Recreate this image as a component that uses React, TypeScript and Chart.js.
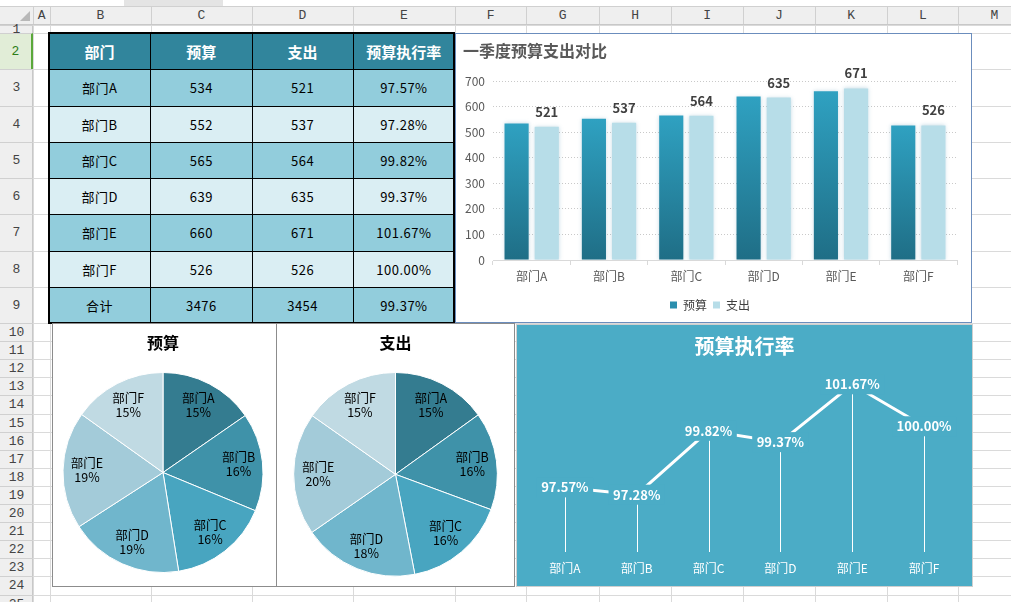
import React, { useEffect, useRef } from "react";
import { Chart, registerables } from "chart.js";

Chart.register(...registerables);

const FONT = "'Noto Sans CJK SC', 'Noto Sans', sans-serif";
const SHEET_FONT = "'Liberation Mono', 'DejaVu Sans Mono', monospace";

// ---------- data ----------
const departments = ["部门A", "部门B", "部门C", "部门D", "部门E", "部门F"];
const budget = [534, 552, 565, 639, 660, 526];
const spending = [521, 537, 564, 635, 671, 526];
const execRate = [97.57, 97.28, 99.82, 99.37, 101.67, 100.0];
const tableHeaders = ["部门", "预算", "支出", "预算执行率"];
const totalLabel = "合计";
const seriesNames = ["预算", "支出"];
const barTitle = "一季度预算支出对比";
const rateTitle = "预算执行率";
const barAxisMin = 0;
const barAxisMax = 700;
const barAxisStep = 100;
const rateAxisMin = 95;
const rateAxisMax = 102;

const colLetters = ["A", "B", "C", "D", "E", "F", "G", "H", "I", "J", "K", "L", "M"];

// ---------- styles ----------
const pieColors = ["#347c90", "#3f92a9", "#48a5c0", "#70b6cc", "#a3cbd9", "#c0dae3"];
const budgetColor = "#2b8fae";
const spendColor = "#b7dde8";
const rateBg = "#4bacc6";

const colEdges = [33, 49.5, 150.5, 251.5, 352.5, 454.5, 526, 598.5, 671, 742.5, 814.5, 887, 958, 1030];
const rowHeights = [8, 36.25, 36.25, 36.25, 36.25, 36.25, 36.25, 36.25, 36.25,
  18.1, 18.1, 18.1, 18.1, 18.1, 18.1, 18.1, 18.1, 18.1, 18.1, 18.1, 18.1, 18.1, 18.1, 18.1, 18.1];

const sum = (a: number[]) => a.reduce((s, v) => s + v, 0);

function roundedShares(values: number[]): number[] {
  const total = sum(values);
  const raw = values.map((v) => (v / total) * 100);
  const floors = raw.map((r) => Math.floor(r));
  let rest = 100 - sum(floors);
  const order = raw.map((r, i) => ({ i, rem: r - Math.floor(r) })).sort((a, b) => b.rem - a.rem);
  const out = floors.slice();
  for (const o of order) {
    if (rest <= 0) break;
    out[o.i] += 1;
    rest -= 1;
  }
  return out;
}

function ChartCanvas(props: { left: number; top: number; width: number; height: number; make: () => any }) {
  const ref = useRef<HTMLCanvasElement | null>(null);
  useEffect(() => {
    const chart = new Chart(ref.current as HTMLCanvasElement, props.make());
    return () => chart.destroy();
  }, []);
  return (
    <canvas
      ref={ref}
      width={props.width}
      height={props.height}
      style={{ position: "absolute", left: props.left, top: props.top, width: props.width, height: props.height }}
    />
  );
}

// ---------- bar chart ----------
function makeBarConfig() {
  const valueLabels = {
    id: "valueLabels",
    afterDatasetsDraw(chart: any) {
      const ctx = chart.ctx;
      const meta = chart.getDatasetMeta(1);
      ctx.save();
      ctx.font = `bold 13px ${FONT}`;
      ctx.fillStyle = "#404040";
      ctx.textAlign = "center";
      ctx.textBaseline = "middle";
      meta.data.forEach((el: any, i: number) => {
        ctx.fillText(String(spending[i]), el.x, el.y - 15);
      });
      ctx.restore();
    },
  };
  const barShadow = {
    id: "barShadow",
    beforeDatasetDraw(chart: any) {
      const ctx = chart.ctx;
      ctx.save();
      ctx.shadowColor = "rgba(90,150,180,0.35)";
      ctx.shadowBlur = 4;
    },
    afterDatasetDraw(chart: any) {
      chart.ctx.restore();
    },
  };
  return {
    type: "bar",
    data: {
      labels: departments,
      datasets: [
        {
          label: seriesNames[0],
          data: budget,
          backgroundColor: (c: any) => {
            const chart = c.chart;
            const ys = chart.scales && chart.scales.y;
            if (!ys || !chart.chartArea || c.raw == null) return budgetColor;
            const top = ys.getPixelForValue(c.raw);
            const bottom = ys.getPixelForValue(0);
            if (!isFinite(top) || !isFinite(bottom) || bottom - top < 1) return budgetColor;
            const g = chart.ctx.createLinearGradient(0, top, 0, bottom);
            g.addColorStop(0, "#2fa1c1");
            g.addColorStop(1, "#1f6e86");
            return g;
          },
          borderWidth: 0,
        },
        {
          label: seriesNames[1],
          data: spending,
          backgroundColor: spendColor,
          borderWidth: 0,
        },
      ],
    },
    options: {
      animation: false,
      responsive: false,
      maintainAspectRatio: false,
      events: [],
      layout: { padding: { left: 7, right: 14, top: 0, bottom: 1 } },
      datasets: { bar: { barPercentage: 0.8, categoryPercentage: 0.78 } },
      scales: {
        x: {
          grid: { display: true, drawOnChartArea: false, drawTicks: true, tickLength: 5, color: "#d9d9d9", offset: true },
          border: { display: true, color: "#d9d9d9", width: 1 },
          ticks: { color: "#595959", font: { family: FONT, size: 12 }, padding: 4 },
          afterFit: (s: any) => {
            s.height = 33;
          },
        },
        y: {
          min: barAxisMin,
          max: barAxisMax,
          ticks: { stepSize: barAxisStep, color: "#595959", font: { family: FONT, size: 12 }, padding: 8 },
          grid: { color: "#c9c9c9", drawTicks: false, lineWidth: 1 },
          border: { display: false, dash: [1, 2] },
          afterFit: (s: any) => {
            s.width = 30;
          },
        },
      },
      plugins: {
        tooltip: { enabled: false },
        title: {
          display: true,
          text: barTitle,
          align: "start",
          color: "#595959",
          font: { family: FONT, size: 16, weight: "bold" },
          padding: { top: 7.4, bottom: 20.4 },
        },
        legend: {
          display: true,
          position: "bottom",
          labels: {
            boxWidth: 7,
            boxHeight: 7,
            padding: 6,
            color: "#404040",
            font: { family: FONT, size: 12 },
            generateLabels: (chart: any) =>
              chart.data.datasets.map((ds: any, i: number) => ({
                text: ds.label,
                fillStyle: i === 0 ? budgetColor : spendColor,
                strokeStyle: i === 0 ? budgetColor : spendColor,
                lineWidth: 0,
                hidden: false,
                datasetIndex: i,
                fontColor: "#404040",
              })),
          },
        },
      },
    },
    plugins: [barShadow, valueLabels],
  };
}

// ---------- pie charts ----------
function makePieConfig(title: string, values: number[], padBottom: number, padRight: number) {
  const shares = roundedShares(values);
  const pieLabels = {
    id: "pieLabels",
    afterDatasetsDraw(chart: any) {
      const ctx = chart.ctx;
      const meta = chart.getDatasetMeta(0);
      ctx.save();
      ctx.font = `12.5px ${FONT}`;
      ctx.fillStyle = "#000";
      ctx.textAlign = "center";
      ctx.textBaseline = "middle";
      meta.data.forEach((arc: any, i: number) => {
        const mid = (arc.startAngle + arc.endAngle) / 2;
        const r = arc.outerRadius * 0.76;
        const px = arc.x + Math.cos(mid) * r;
        const py = arc.y + Math.sin(mid) * r;
        ctx.fillText(departments[i], px, py - 7);
        ctx.fillText(shares[i] + "%", px, py + 7);
      });
      ctx.restore();
    },
  };
  return {
    type: "pie",
    data: {
      labels: departments,
      datasets: [{ data: values, backgroundColor: pieColors, borderColor: "#ffffff", borderWidth: 1 }],
    },
    options: {
      animation: false,
      responsive: false,
      maintainAspectRatio: false,
      events: [],
      layout: { padding: { top: 0, bottom: padBottom, left: 0, right: padRight } },
      plugins: {
        tooltip: { enabled: false },
        legend: { display: false },
        title: {
          display: true,
          text: title,
          color: "#000",
          font: { family: FONT, size: 16, weight: "bold" },
          padding: { top: 9.4, bottom: 19.4 },
        },
      },
    },
    plugins: [pieLabels],
  };
}

// ---------- line chart ----------
function makeRateConfig() {
  const dropLines = {
    id: "dropLines",
    beforeDatasetsDraw(chart: any) {
      const ctx = chart.ctx;
      const meta = chart.getDatasetMeta(0);
      const bottom = chart.chartArea.bottom;
      ctx.save();
      ctx.strokeStyle = "#ffffff";
      ctx.lineWidth = 1;
      meta.data.forEach((pt: any) => {
        const x = Math.round(pt.x) + 0.5;
        ctx.beginPath();
        ctx.moveTo(x, pt.y);
        ctx.lineTo(x, bottom);
        ctx.stroke();
      });
      ctx.restore();
    },
  };
  const rateLabels = {
    id: "rateLabels",
    afterDatasetsDraw(chart: any) {
      const ctx = chart.ctx;
      const meta = chart.getDatasetMeta(0);
      ctx.save();
      ctx.font = `bold 13px ${FONT}`;
      ctx.textAlign = "center";
      ctx.textBaseline = "middle";
      meta.data.forEach((pt: any, i: number) => {
        const t = execRate[i].toFixed(2) + "%";
        const w = ctx.measureText(t).width + 9;
        ctx.fillStyle = rateBg;
        ctx.fillRect(pt.x - w / 2, pt.y - 10, w, 20);
        ctx.fillStyle = "#ffffff";
        ctx.fillText(t, pt.x, pt.y);
      });
      ctx.restore();
    },
  };
  return {
    type: "line",
    data: {
      labels: departments,
      datasets: [
        {
          label: rateTitle,
          data: execRate,
          borderColor: "#ffffff",
          borderWidth: 3,
          pointRadius: 0,
          tension: 0,
          fill: false,
        },
      ],
    },
    options: {
      animation: false,
      responsive: false,
      maintainAspectRatio: false,
      events: [],
      layout: { padding: { left: 12, right: 12, top: 0, bottom: 0 } },
      scales: {
        x: {
          offset: true,
          grid: { display: false, drawTicks: false },
          border: { display: false },
          ticks: { color: "#ffffff", font: { family: FONT, size: 12 }, padding: 9 },
          afterFit: (s: any) => {
            s.height = 34;
          },
        },
        y: { display: false, min: rateAxisMin, max: rateAxisMax },
      },
      plugins: {
        tooltip: { enabled: false },
        legend: { display: false },
        title: {
          display: true,
          text: rateTitle,
          color: "#ffffff",
          font: { family: FONT, size: 20, weight: "bold" },
          padding: { top: 9.7, bottom: 17.3 },
        },
      },
    },
    plugins: [dropLines, rateLabels],
  };
}

// ---------- sheet ----------
function Sheet() {
  const rowEdges: number[] = [25];
  rowHeights.forEach((h) => rowEdges.push(rowEdges[rowEdges.length - 1] + h));
  const els: any[] = [];
  colEdges.forEach((x, i) =>
    els.push(<div key={"vl" + i} style={{ position: "absolute", left: x, top: 25, width: 1, height: 577, background: "#dadada" }} />)
  );
  rowEdges.forEach((y, i) =>
    els.push(<div key={"hl" + i} style={{ position: "absolute", left: 33, top: y, width: 978, height: 1, background: "#dadada" }} />)
  );
  els.push(<div key="tab" style={{ position: "absolute", left: 124, top: 0, width: 99, height: 6, background: "#e4e4e4" }} />);
  els.push(<div key="topline" style={{ position: "absolute", left: 0, top: 6, width: 1011, height: 1, background: "#d0d0d0" }} />);
  els.push(
    <div key="colhdr" style={{ position: "absolute", left: 0, top: 7, width: 1011, height: 18, background: "#efefef", borderBottom: "1px solid #c8c8c8", boxSizing: "border-box" }} />
  );
  els.push(
    <div key="corner" style={{ position: "absolute", left: 20, top: 11, width: 0, height: 0, borderLeft: "10px solid transparent", borderBottom: "10px solid #b8b8b8" }} />
  );
  colLetters.forEach((c, i) =>
    els.push(
      <div
        key={"ch" + i}
        style={{
          position: "absolute", left: colEdges[i], top: 7, width: colEdges[i + 1] - colEdges[i], height: 17,
          borderLeft: "1px solid #d0d0d0", boxSizing: "border-box", display: "flex", alignItems: "center",
          justifyContent: "center", fontFamily: SHEET_FONT, fontSize: 13, color: "#444",
        }}
      >
        {c}
      </div>
    )
  );
  els.push(
    <div key="rowhdr" style={{ position: "absolute", left: 0, top: 25, width: 33, height: 577, background: "#efefef", borderRight: "1px solid #c8c8c8", boxSizing: "border-box" }} />
  );
  rowHeights.forEach((h, i) => {
    const sel = i === 1;
    els.push(
      <div
        key={"rh" + i}
        style={{
          position: "absolute", left: 0, top: rowEdges[i], width: 33, height: h,
          borderTop: "1px solid #d0d0d0", boxSizing: "border-box", display: "flex", alignItems: "center",
          justifyContent: "center", fontFamily: SHEET_FONT, fontSize: 13, color: sel ? "#2e7d18" : "#444",
          background: sel ? "#e1edd7" : "transparent", borderRight: sel ? "2px solid #5aa83a" : "none",
          overflow: "visible", lineHeight: "13px",
        }}
      >
        {String(i + 1)}
      </div>
    );
  });
  return <>{els}</>;
}

function DataTable() {
  const rows: string[][] = [
    tableHeaders,
    ...departments.map((d, i) => [d, String(budget[i]), String(spending[i]), execRate[i].toFixed(2) + "%"]),
    [totalLabel, String(sum(budget)), String(sum(spending)), ((sum(spending) / sum(budget)) * 100).toFixed(2) + "%"],
  ];
  const W = 405;
  const H = 290;
  const colW = W / 4;
  const rowH = H / rows.length;
  return (
    <div style={{ position: "absolute", left: 49, top: 33, width: W, height: H }}>
      {rows.map((r, ri) =>
        r.map((t, ci) => {
          const head = ri === 0;
          const bg = head ? "#31859c" : ri % 2 === 1 ? "#92cddc" : "#daeef3";
          return (
            <div
              key={ri + "-" + ci}
              style={{
                position: "absolute", left: ci * colW, top: ri * rowH, width: colW, height: rowH,
                background: bg, borderLeft: ci ? "1px solid #000" : "none", borderTop: ri ? "1px solid #000" : "none",
                boxSizing: "border-box", display: "flex", alignItems: "center", justifyContent: "center",
                color: head ? "#fff" : "#000", fontWeight: head ? 700 : 400, fontSize: head ? 15 : 13,
                fontFamily: FONT, letterSpacing: head ? 0 : 0.5,
              }}
            >
              {t}
            </div>
          );
        })
      )}
      <div style={{ position: "absolute", left: -1, top: -1, width: W + 2, height: H + 2, border: "2px solid #000", boxSizing: "border-box" }} />
    </div>
  );
}

export default function App() {
  return (
    <div style={{ position: "fixed", left: 0, top: 0, width: 1011, height: 602, overflow: "hidden", background: "#fff" }}>
      <Sheet />
      <DataTable />
      <div style={{ position: "absolute", left: 455, top: 33, width: 517, height: 290, background: "#fff", border: "1px solid #6b8dbd", boxSizing: "border-box" }} />
      <ChartCanvas left={456} top={34} width={515} height={288} make={makeBarConfig} />
      <div style={{ position: "absolute", left: 52, top: 323, width: 225, height: 264, background: "#fff", border: "1px solid #8c8c8c", boxSizing: "border-box" }} />
      <ChartCanvas left={53} top={324} width={222} height={262} make={() => makePieConfig(seriesNames[0], budget, 13, 2)} />
      <div style={{ position: "absolute", left: 276, top: 323, width: 239, height: 264, background: "#fff", border: "1px solid #8c8c8c", boxSizing: "border-box" }} />
      <ChartCanvas left={277} top={324} width={237} height={262} make={() => makePieConfig(seriesNames[1], spending, 9.3, 0)} />
      <div style={{ position: "absolute", left: 516, top: 324, width: 457, height: 263, background: rateBg, border: "1px solid #cfcfcf", boxSizing: "border-box" }} />
      <ChartCanvas left={517} top={325} width={455} height={261} make={makeRateConfig} />
    </div>
  );
}
